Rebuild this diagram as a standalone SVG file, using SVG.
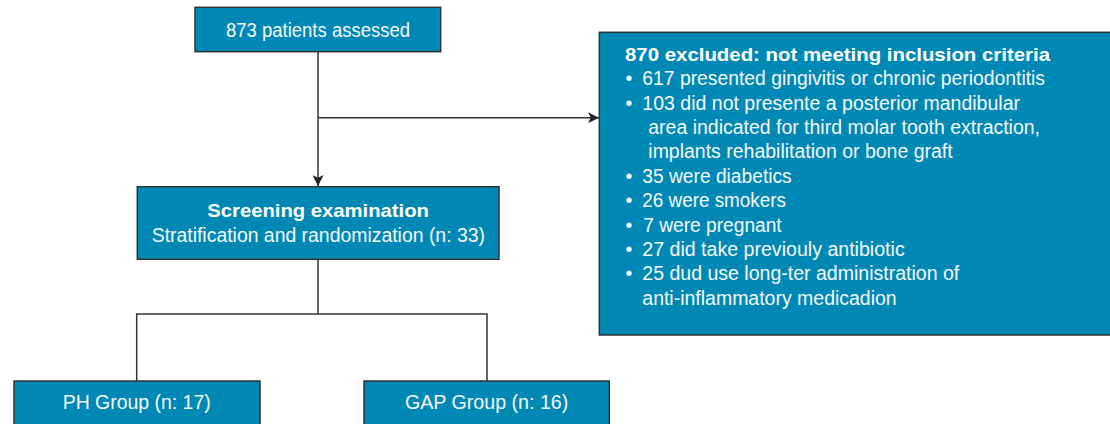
<svg xmlns="http://www.w3.org/2000/svg" width="1110" height="424" viewBox="0 0 1110 424">
  <style>
    .box { fill: #0088b5; stroke: #333333; stroke-width: 1.5; }
    .t { fill: #f4f8fb; font-family: "Liberation Sans", Arial, sans-serif; font-size: 19.5px; }
    .b { font-weight: bold; fill: #ffffff; font-size: 18.5px; }
    .c { text-anchor: middle; }
    .conn { fill: none; stroke: #333333; stroke-width: 1.5; }
  </style>
  <defs>
    <marker id="arrow" viewBox="0 0 10 10" refX="10" refY="5" markerWidth="11" markerHeight="11" markerUnits="userSpaceOnUse" orient="auto">
      <path d="M0,0 L10,5 L0,10 L2.5,5 z" fill="#222222"/>
    </marker>
  </defs>
  <rect width="1110" height="424" fill="#ffffff"/>

  <g id="connectors">
    <path class="conn" d="M318,52 V186" marker-end="url(#arrow)"/>
    <path class="conn" d="M318,117.7 H599" marker-end="url(#arrow)"/>
    <path class="conn" d="M318,260 V314"/>
    <path class="conn" d="M136.7,381 V314 H487 V381"/>
  </g>

  <g id="node-assessed">
    <rect class="box" x="195" y="7.3" width="245.7" height="44.4"/>
    <text class="t" x="226" y="36.5" textLength="184" lengthAdjust="spacingAndGlyphs">873 patients assessed</text>
  </g>

  <g id="node-excluded">
    <rect class="box" x="599.3" y="32.3" width="520" height="302.7"/>
    <text class="t b" x="625" y="60.5" textLength="425" lengthAdjust="spacingAndGlyphs">870 excluded: not meeting inclusion criteria</text>
    <g class="t">
      <text x="625.5" y="85">•</text>
      <text x="642.3" y="85" textLength="402.7" lengthAdjust="spacingAndGlyphs">617 presented gingivitis or chronic periodontitis</text>
      <text x="625.5" y="109.5">•</text>
      <text x="642.3" y="109.5" textLength="377.7" lengthAdjust="spacingAndGlyphs">103 did not presente a posterior mandibular</text>
      <text x="648.3" y="134" textLength="391.7" lengthAdjust="spacingAndGlyphs">area indicated for third molar tooth extraction,</text>
      <text x="648.3" y="158" textLength="304.4" lengthAdjust="spacingAndGlyphs">implants rehabilitation or bone graft</text>
      <text x="625.5" y="183">•</text>
      <text x="642.3" y="183" textLength="149.4" lengthAdjust="spacingAndGlyphs">35 were diabetics</text>
      <text x="625.5" y="207">•</text>
      <text x="642.3" y="207" textLength="143.7" lengthAdjust="spacingAndGlyphs">26 were smokers</text>
      <text x="625.5" y="231.5">•</text>
      <text x="643.3" y="231.5" textLength="138.4" lengthAdjust="spacingAndGlyphs">7 were pregnant</text>
      <text x="625.5" y="256">•</text>
      <text x="642.3" y="256" textLength="262.4" lengthAdjust="spacingAndGlyphs">27 did take previouly antibiotic</text>
      <text x="625.5" y="280">•</text>
      <text x="642.3" y="280" textLength="317" lengthAdjust="spacingAndGlyphs">25 dud use long-ter administration of</text>
      <text x="642.3" y="305" textLength="254.4" lengthAdjust="spacingAndGlyphs">anti-inflammatory medicadion</text>
    </g>
  </g>

  <g id="node-screening">
    <rect class="box" x="137.3" y="186.7" width="361.7" height="72.6"/>
    <text class="t b" x="207.3" y="216.7" textLength="221.7" lengthAdjust="spacingAndGlyphs">Screening examination</text>
    <text class="t" x="151.7" y="241.7" textLength="333.3" lengthAdjust="spacingAndGlyphs">Stratification and randomization (n: 33)</text>
  </g>

  <g id="node-ph">
    <rect class="box" x="14" y="381" width="246" height="50"/>
    <text class="t" x="62.7" y="409.3" textLength="148" lengthAdjust="spacingAndGlyphs">PH Group (n: 17)</text>
  </g>

  <g id="node-gap">
    <rect class="box" x="364" y="381" width="245.3" height="50"/>
    <text class="t" x="405" y="409.3" textLength="163.3" lengthAdjust="spacingAndGlyphs">GAP Group (n: 16)</text>
  </g>
</svg>
